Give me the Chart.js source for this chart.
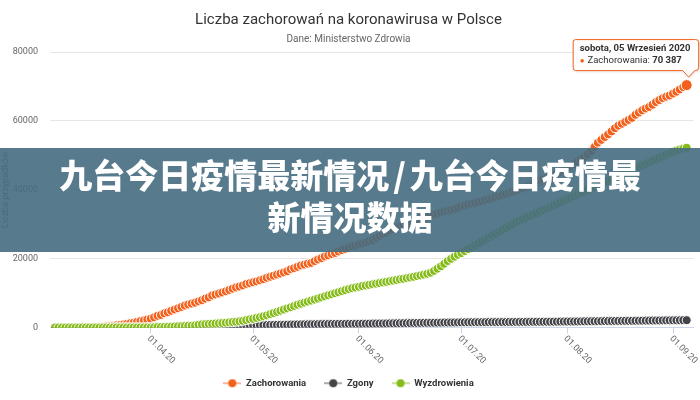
<!DOCTYPE html>
<html lang="pl">
<head>
  <meta charset="UTF-8" />
  <title>Liczba zachorowań na koronawirusa w Polsce</title>
  <script src="https://cdn.jsdelivr.net/npm/chart.js"></script>
  <style>
    body { margin: 0; background: #fff; }
    #wrap { position: relative; width: 700px; height: 400px; overflow: hidden; }
    #banner {
      position: absolute; left: 0; top: 148px; width: 700px; height: 104px;
      box-sizing: border-box; padding-top: 5px;
      background: rgba(69, 107, 127, 0.9);
      color: #fff; text-align: center;
      font-family: "Noto Sans CJK SC", sans-serif; font-weight: 900;
      font-size: 33px; line-height: 42px;
    }
    #banner .sl { margin: 0 4px; }
  </style>
</head>
<body>
<div id="wrap">
  <canvas id="chart" width="700" height="400"></canvas>
  <div id="banner">九台今日疫情最新情况<span class="sl">/</span>九台今日疫情最<br>新情况数据</div>
</div>
<script>
// daily data from 04.03.20 to 05.09.20
const firstDay = Date.UTC(2020, 2, 4);

const zachorowania = [
  1, 1, 5, 6, 11, 17, 22, 31, 51, 68, 104, 125, 177, 238, 251, 355, 425, 536, 634, 749, 901, 1051, 1221, 1389, 1638, 1862, 2055, 2311,
  2554, 2946, 3383, 3627, 4102, 4413, 4848, 5205, 5575, 5955, 6356, 6674, 6934, 7202, 7582, 7918, 8379, 8742, 9287, 9593, 9856, 10169, 10511, 10892, 11273, 11617, 11902, 12218, 12640, 12877,
  13105, 13375, 13693, 14006, 14431, 14740, 15047, 15366, 15651, 15996, 16326, 16921, 17204, 17615, 18016, 18257, 18529, 18746, 19268, 19739, 20143, 20619, 20931, 21326, 21631, 22074, 22473, 22825, 23155, 23571, 23786,
  24165, 24395, 24687, 25048, 25410, 25986, 26561, 27160, 27560, 28201, 28577, 29017, 29392, 29788, 30195, 30701, 31015, 31316, 31620, 31931, 32227, 32527, 32821, 33119, 33395, 33714, 33907, 34154, 34393, 34775,
  35146, 35405, 35719, 35950, 36155, 36412, 36689, 36951, 37216, 37521, 37891, 38190, 38457, 38721, 39054, 39407, 39746, 40104, 40383, 40782, 41162, 41580, 42038, 42622, 43065, 43402, 43904, 44416, 44856, 45242, 45688,
  46346, 46894, 47469, 48149, 48789, 49515, 50324, 51167, 52410, 53676, 54487, 55319, 56090, 56945, 57876, 58611, 59157, 59699, 60281, 60875, 61762, 62409, 63073, 63602, 64042, 64689, 65480, 66032, 66606, 67011, 67372,
  67922, 68473, 69129, 69820, 70387
];

const zgony = [
  0, 0, 0, 0, 0, 0, 0, 0, 1, 2, 3, 3, 5, 5, 5, 5, 5, 5, 7, 8, 10, 14, 16, 17, 18, 22, 31, 33,
  43, 57, 71, 79, 94, 107, 129, 159, 174, 181, 208, 232, 245, 263, 286, 314, 332, 347, 360, 380, 401, 426, 494, 524, 535, 562, 579, 596, 624, 644,
  651, 664, 678, 698, 716, 733, 755, 776, 785, 800, 812, 839, 861, 883, 907, 915, 925, 936, 948, 962, 982, 996, 1007, 1024, 1028, 1038, 1043, 1051, 1061, 1064, 1074,
  1087, 1092, 1115, 1117, 1133, 1153, 1157, 1166, 1183, 1206, 1215, 1237, 1247, 1263, 1272, 1286, 1316, 1322, 1331, 1344, 1356, 1359, 1375, 1388, 1407, 1429, 1438, 1444, 1463, 1477,
  1492, 1501, 1517, 1521, 1522, 1528, 1538, 1551, 1562, 1568, 1571, 1576, 1580, 1594, 1599, 1609, 1618, 1621, 1624, 1633, 1642, 1655, 1664, 1672, 1676, 1682, 1684, 1694, 1701, 1716, 1721,
  1731, 1737, 1739, 1756, 1773, 1787, 1801, 1812, 1824, 1828, 1844, 1863, 1880, 1893, 1901, 1908, 1911, 1924, 1935, 1947, 1961, 1978, 1995, 2000, 2010, 2024, 2039, 2048, 2058, 2069, 2073,
  2085, 2093, 2104, 2116, 2126
];

const wyzdrowienia = [
  0, 0, 0, 0, 0, 0, 0, 0, 0, 1, 1, 1, 1, 1, 1, 1, 1, 1, 1, 1, 1, 1, 1, 7, 7, 7, 7, 7,
  11, 56, 135, 162, 162, 196, 249, 300, 347, 375, 435, 486, 507, 607, 783, 909, 973, 1033, 1092, 1153, 1206, 1293, 1386, 1482, 1567, 1669, 1786, 1943, 2154, 2367,
  2520, 2770, 3010, 3240, 3510, 3850, 4200, 4530, 4870, 5200, 5540, 5890, 6250, 6600, 6900, 7220, 7520, 7810, 8100, 8410, 8730, 9040, 9330, 9620, 9930, 10250, 10560, 10870, 11170, 11400, 11600,
  11820, 12020, 12200, 12390, 12560, 12740, 12900, 13080, 13260, 13440, 13620, 13800, 13980, 14160, 14350, 14530, 14720, 14920, 15130, 15350, 15600, 15900, 16450, 17080, 17760, 18520, 19300, 19950, 20560, 21120,
  21600, 22180, 22750, 23300, 23850, 24420, 24990, 25560, 26120, 26680, 27240, 27790, 28350, 28900, 29450, 30000, 30540, 31000, 31450, 31900, 32340, 32790, 33230, 33680, 34120, 34560, 35010, 35450, 35900, 36340, 36780,
  37230, 37670, 38120, 38560, 39010, 39460, 39900, 40350, 40790, 41240, 41690, 42130, 42580, 43020, 43470, 43920, 44360, 44810, 45250, 45700, 46140, 46590, 47040, 47480, 47930, 48370, 48820, 49260, 49710, 50160, 50600,
  51050, 51400, 51700, 51950, 52200
];

const seriesNames = ['Zachorowania', 'Zgony', 'Wyzdrowienia'];
const seriesColors = ['#f2601b', '#434348', '#86bc1a'];
const tickLabels = ['01.04.20', '01.05.20', '01.06.20', '01.07.20', '01.08.20', '01.09.20'];
const tooltipDate = 'sobota, 05 Wrzesień 2020';

// date labels dd.mm.yy for every day
const dates = zachorowania.map((v, i) => {
  const d = new Date(firstDay + i * 86400000);
  const p = n => String(n).padStart(2, '0');
  return p(d.getUTCDate()) + '.' + p(d.getUTCMonth() + 1) + '.' + String(d.getUTCFullYear()).slice(2);
});

Chart.defaults.font.family = 'Roboto, "Open Sans", sans-serif';

function toPoints(arr) {
  return arr.map((v, i) => ({ x: i, y: v }));
}

// legend symbol: short line with a dot in the middle
function legendIcon(color) {
  const c = document.createElement('canvas');
  c.width = 18; c.height = 10;
  const g = c.getContext('2d');
  g.globalAlpha = 0.45;
  g.strokeStyle = color;
  g.lineWidth = 2;
  g.beginPath(); g.moveTo(0, 5); g.lineTo(18, 5); g.stroke();
  g.globalAlpha = 1;
  g.fillStyle = color;
  g.beginPath(); g.arc(9, 5, 4, 0, Math.PI * 2); g.fill();
  return c;
}
const icons = seriesColors.map(legendIcon);

// x labels go down to the right from each tick
const dateLabels = {
  id: 'dateLabels',
  afterDraw(chart) {
    const ctx = chart.ctx;
    const xs = chart.scales.x;
    ctx.save();
    ctx.font = '9px Roboto';
    ctx.fillStyle = '#666';
    ctx.textAlign = 'left';
    ctx.textBaseline = 'middle';
    tickLabels.forEach(lbl => {
      const px = xs.getPixelForValue(dates.indexOf(lbl));
      ctx.save();
      ctx.translate(px - 2, xs.top + 10);
      ctx.rotate(Math.PI / 4);
      ctx.fillText(lbl, 0, 0);
      ctx.restore();
    });
    ctx.restore();
  }
};

// fixed tooltip on the last "Zachorowania" point
const fixedTooltip = {
  id: 'fixedTooltip',
  afterDraw(chart) {
    const ctx = chart.ctx;
    const meta = chart.getDatasetMeta(0);
    const idx = zachorowania.length - 1;
    const pt = meta.data[idx];
    const value = String(zachorowania[idx]).replace(/\B(?=(\d{3})+(?!\d))/g, ' ');
    const w = 126, h = 31;
    const bx = pt.x + 12 - w, by = pt.y - 15 - h;
    ctx.save();
    ctx.shadowColor = 'rgba(0,0,0,0.15)';
    ctx.shadowBlur = 3;
    ctx.shadowOffsetX = 1;
    ctx.shadowOffsetY = 1;
    ctx.fillStyle = 'rgba(255,255,255,0.95)';
    ctx.strokeStyle = seriesColors[0];
    ctx.lineWidth = 1;
    ctx.beginPath();
    ctx.moveTo(bx + 3, by + 0.5);
    ctx.lineTo(bx + w - 3, by + 0.5);
    ctx.quadraticCurveTo(bx + w, by + 0.5, bx + w, by + 3);
    ctx.lineTo(bx + w, by + h - 3);
    ctx.quadraticCurveTo(bx + w, by + h + 0.5, bx + w - 3, by + h + 0.5);
    ctx.lineTo(pt.x + 8, by + h + 0.5);
    ctx.lineTo(pt.x + 2, by + h + 7);
    ctx.lineTo(pt.x - 4, by + h + 0.5);
    ctx.lineTo(bx + 3, by + h + 0.5);
    ctx.quadraticCurveTo(bx + 0.5, by + h + 0.5, bx + 0.5, by + h - 3);
    ctx.lineTo(bx + 0.5, by + 3);
    ctx.quadraticCurveTo(bx + 0.5, by + 0.5, bx + 3, by + 0.5);
    ctx.closePath();
    ctx.fill();
    ctx.shadowColor = 'transparent';
    ctx.stroke();

    ctx.textBaseline = 'middle';
    ctx.textAlign = 'left';
    ctx.fillStyle = '#333';
    ctx.font = 'bold 9.5px Roboto';
    ctx.fillText(tooltipDate, bx + 7, by + 10);

    let x = bx + 7;
    const y = by + 22;
    ctx.fillStyle = seriesColors[0];
    ctx.font = '8px Roboto';
    ctx.fillText('\u25CF', x, y);
    x += ctx.measureText('\u25CF ').width + 1;
    ctx.fillStyle = '#333';
    ctx.font = '9.5px Roboto';
    const label = seriesNames[0] + ': ';
    ctx.fillText(label, x, y);
    x += ctx.measureText(label).width;
    ctx.font = 'bold 9.5px Roboto';
    ctx.fillText(value, x, y);
    ctx.restore();
  }
};

const lastIdx = zachorowania.length - 1;
const series = [zachorowania, zgony, wyzdrowienia];

new Chart(document.getElementById('chart'), {
  type: 'line',
  data: {
    datasets: series.map((arr, i) => ({
      label: seriesNames[i],
      data: toPoints(arr),
      order: 3 - i,
      borderColor: seriesColors[i],
      backgroundColor: seriesColors[i],
      borderWidth: 2,
      pointBackgroundColor: seriesColors[i],
      pointBorderColor: '#fff',
      pointBorderWidth: 1,
      pointRadius: i === 0 ? (c => c.dataIndex === lastIdx ? 5.5 : 4.5) : 4.5,
      tension: 0
    }))
  },
  options: {
    responsive: false,
    animation: false,
    events: [],
    layout: { padding: { left: 0, right: 3, top: 0, bottom: 2 } },
    plugins: {
      title: {
        display: true,
        text: 'Liczba zachorowań na koronawirusa w Polsce',
        color: '#333',
        font: { size: 15, weight: 'normal' },
        padding: { top: 11, bottom: 4 }
      },
      subtitle: {
        display: true,
        text: 'Dane: Ministerstwo Zdrowia',
        color: '#666',
        font: { size: 10 },
        padding: { top: 0, bottom: 7 }
      },
      legend: {
        position: 'bottom',
        labels: {
          usePointStyle: true,
          pointStyleWidth: 18,
          color: '#333',
          font: { size: 9.5, weight: 'bold' },
          padding: 18,
          sort: (a, b) => a.datasetIndex - b.datasetIndex,
          generateLabels(chart) {
            const items = Chart.defaults.plugins.legend.labels.generateLabels(chart);
            items.forEach(it => { it.pointStyle = icons[it.datasetIndex]; });
            return items;
          }
        }
      },
      tooltip: { enabled: false }
    },
    scales: {
      x: {
        type: 'linear',
        min: -1.5,
        max: 187,
        afterBuildTicks(scale) {
          scale.ticks = tickLabels.map(l => ({ value: dates.indexOf(l) }));
        },
        afterFit(scale) { scale.height = 33; },
        ticks: { display: false },
        grid: { drawOnChartArea: false, drawTicks: true, tickLength: 6, color: '#ccd6eb' },
        border: { color: '#ccd6eb' }
      },
      y: {
        min: 0,
        max: 80000,
        afterFit(scale) { scale.width = 50; },
        ticks: {
          stepSize: 20000,
          padding: 12,
          color: '#666',
          font: { size: 9 },
          callback: v => String(v)
        },
        grid: { color: '#e6e6e6', drawTicks: false },
        border: { display: false },
        title: {
          display: true,
          text: 'Liczba przypadków',
          color: '#666',
          font: { size: 9 },
          padding: 0
        }
      }
    }
  },
  plugins: [dateLabels, fixedTooltip]
});
</script>
</body>
</html>
